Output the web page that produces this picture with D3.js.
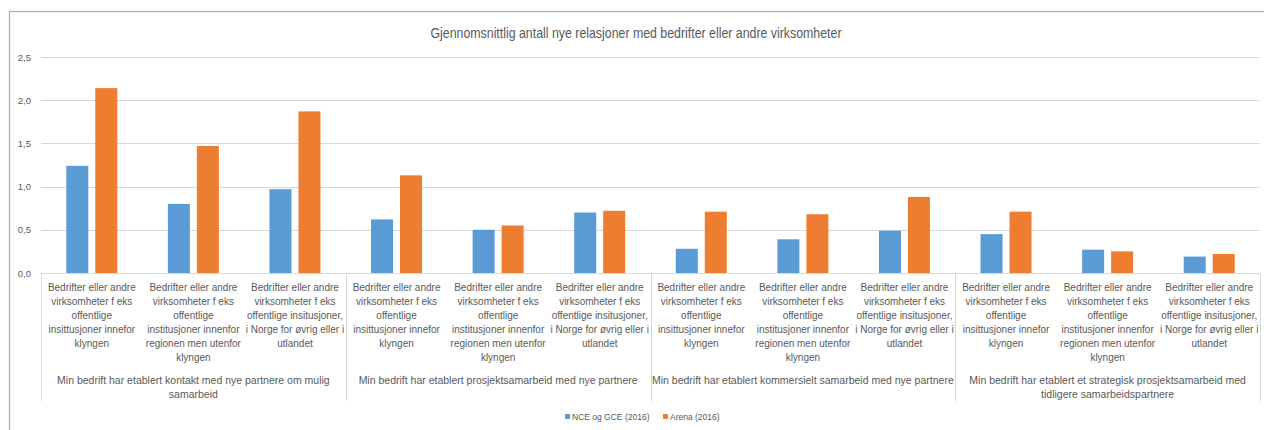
<!DOCTYPE html>
<html><head><meta charset="utf-8">
<script src="https://cdn.jsdelivr.net/npm/d3@7"></script>
<style>
html,body{margin:0;padding:0;background:#fff;}
svg{display:block;font-family:"Liberation Sans",Arial,sans-serif;}
</style></head>
<body><svg id="c" width="1264" height="430"></svg>
<script>
const title = "Gjennomsnittlig antall nye relasjoner med bedrifter eller andre virksomheter";
const subLabels = [
  ["Bedrifter eller andre","virksomheter f eks","offentlige","insittusjoner innefor","klyngen"],
  ["Bedrifter eller andre","virksomheter f eks","offentlige","institusjoner innenfor","regionen men utenfor","klyngen"],
  ["Bedrifter eller andre","virksomheter f eks","offentlige insitusjoner,","i Norge for øvrig eller i","utlandet"]
];
const groups = [
  ["Min bedrift har etablert kontakt med nye partnere om mulig","samarbeid"],
  ["Min bedrift har etablert prosjektsamarbeid med nye partnere"],
  ["Min bedrift har etablert kommersielt samarbeid med nye partnere"],
  ["Min bedrift har etablert et strategisk prosjektsamarbeid med","tidligere samarbeidspartnere"]
];
const seriesNames = ["NCE og GCE (2016)", "Arena (2016)"];
const seriesColors = ["#5B9BD5", "#ED7D31"];
const nceValues   = [1.24, 0.80, 0.97, 0.62, 0.50, 0.70, 0.28, 0.39, 0.49, 0.45, 0.27, 0.19];
const arenaValues = [2.14, 1.47, 1.87, 1.13, 0.55, 0.72, 0.71, 0.68, 0.88, 0.71, 0.25, 0.22];
const yTicks = [0, 0.5, 1.0, 1.5, 2.0, 2.5];

(function(){
const svg = d3.select("#c");
svg.append("rect").attr("x",9.5).attr("y",11.5).attr("width",1264).attr("height",430)
  .attr("fill","#fff").attr("stroke","#8EB4E3").attr("stroke-width",1.2);

const pLeft = 41, pRight = 1260, pTop = 57, pBase = 273;
const idx = d3.range(nceValues.length);
const x0 = d3.scaleBand().domain(idx).range([pLeft, pRight]).padding(0);
const x1 = d3.scaleBand().domain([0,1]).range([0, x0.bandwidth()]).paddingInner(0.241).paddingOuter(0.872);
const y = d3.scaleLinear().domain([0, 2.5]).range([pBase, pTop]);

svg.append("text").attr("x", 636).attr("y", 38).attr("text-anchor","middle")
  .attr("font-size", 14.5).attr("fill","#595959").attr("textLength", 411).attr("lengthAdjust","spacingAndGlyphs")
  .text(title);

svg.append("g").selectAll("line").data(yTicks.filter(d=>d>0)).join("line")
  .attr("x1", pLeft).attr("x2", pRight).attr("y1", d=>Math.round(y(d))+0.5).attr("y2", d=>Math.round(y(d))+0.5)
  .attr("stroke","#D9D9D9").attr("stroke-width",1);

const yAxis = d3.axisLeft(y).tickValues(yTicks).tickSize(0).tickPadding(10)
  .tickFormat(d => d3.format(".1f")(d).replace(".", ","));
const yg = svg.append("g").attr("transform", `translate(${pLeft},0)`).call(yAxis);
yg.select(".domain").remove();
yg.selectAll("text").attr("font-size", 9.5).attr("fill","#595959").attr("font-family","Liberation Sans, Arial, sans-serif");

const series = [nceValues, arenaValues];
series.forEach((vals, s) => {
  svg.append("g").selectAll("rect").data(idx).join("rect")
    .attr("x", i => x0(i) + x1(s))
    .attr("width", x1.bandwidth())
    .attr("y", i => y(vals[i]))
    .attr("height", i => y(0) - y(vals[i]))
    .attr("fill", seriesColors[s]);
});

const axisG = svg.append("g").attr("stroke","#D9D9D9").attr("stroke-width",1);
axisG.append("line").attr("x1", pLeft).attr("x2", pRight).attr("y1", pBase+0.5).attr("y2", pBase+0.5);
const sepX = d3.range(groups.length + 1).map(g => g === groups.length ? pRight : x0(g*3));
axisG.selectAll("line.sep").data(sepX).join("line").attr("class","sep")
  .attr("x1", d=>Math.round(d)+0.5).attr("x2", d=>Math.round(d)+0.5).attr("y1", pBase).attr("y2", 401);

const lab = svg.append("g").attr("fill","#595959").attr("text-anchor","middle");
idx.forEach(i => {
  const lines = subLabels[i % 3];
  const cx = x0(i) + x0.bandwidth()/2;
  const t = lab.append("text").attr("font-size", 10).attr("x", cx).attr("y", 291);
  lines.forEach((ln, k) => t.append("tspan").attr("x", cx).attr("dy", k ? 14 : 0).text(ln));
});
groups.forEach((lines, g) => {
  const cx = (x0(g*3) + x0(g*3+2) + x0.bandwidth()) / 2;
  const t = lab.append("text").attr("font-size", 10.5).attr("x", cx).attr("y", 384);
  lines.forEach((ln, k) => t.append("tspan").attr("x", cx).attr("dy", k ? 13.5 : 0).text(ln));
});

const legend = svg.append("g").attr("font-size", 8.5).attr("fill","#595959");
const legX = [565, 663];
seriesNames.forEach((n, s) => {
  legend.append("rect").attr("x", legX[s]).attr("y", 414).attr("width", 5).attr("height", 5).attr("fill", seriesColors[s]);
  legend.append("text").attr("x", legX[s] + 7).attr("y", 420).text(n);
});
})();
</script></body></html>
